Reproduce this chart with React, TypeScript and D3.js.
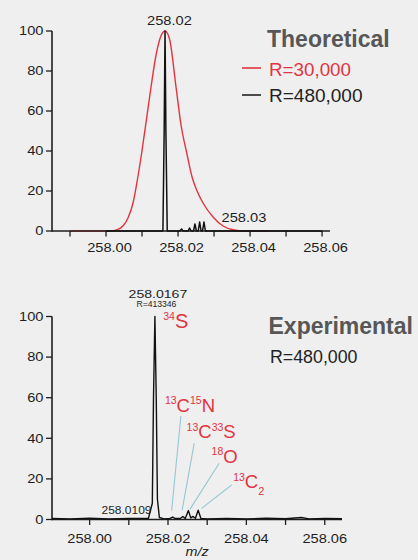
import React from "react";
import * as d3 from "d3";

// ---------- DATA ----------
// Theoretical, R=30,000 (red profile)
const redMz = [257.99, 258.0011, 258.0033, 258.0047, 258.0061, 258.0075, 258.00875, 258.0099, 258.01125, 258.0125, 258.0139, 258.01514, 258.01639, 258.01764, 258.01944, 258.02083, 258.02242, 258.02389, 258.02528, 258.02694, 258.02972, 258.0325, 258.03528, 258.03861, 258.045];
const redInt = [0, 0, 0.8, 2.5, 6.5, 14, 26, 39, 56, 72, 88, 97, 100, 96, 72, 53, 39, 27, 20, 14, 7, 2.5, 0.6, 0, 0];

// Theoretical, R=480,000 (black)
const blackMz = [258.0, 258.0158, 258.01615, 258.01639, 258.01663, 258.017, 258.0205, 258.02097, 258.0214, 258.0228, 258.0232, 258.0236, 258.0243, 258.0247, 258.0251, 258.0256, 258.026, 258.0264, 258.0268, 258.0272, 258.0276, 258.03, 258.06];
const blackInt = [0, 0, 50, 100, 50, 0, 0, 1, 0, 0, 1.5, 0, 0, 3.5, 0, 0, 4.5, 0, 0, 4.5, 0, 0, 0];

// Experimental, R=480,000
const expMz = [257.9904, 257.995, 258.0, 258.005, 258.01, 258.015, 258.016, 258.0163, 258.01666, 258.017, 258.0173, 258.0178, 258.019, 258.0205, 258.0212, 258.0218, 258.0232, 258.0238, 258.0244, 258.0252, 258.0258, 258.0264, 258.027, 258.0277, 258.0284, 258.03, 258.035, 258.04, 258.045, 258.05, 258.054, 258.056, 258.06, 258.0644];
const expInt = [0.5, 0.3, 0.6, 0.3, 0.5, 0.6, 8, 60, 100, 60, 10, 1, 0.3, 0.5, 1.2, 0.5, 0.6, 1.5, 0.5, 4.4, 0.8, 1.5, 0.6, 4.6, 0.5, 0.3, 0.5, 0.3, 0.6, 0.4, 1, 0.3, 0.5, 0.4];

const yTicks = [0, 20, 40, 60, 80, 100];
const topXTicks = [257.99, 258.0, 258.01, 258.02, 258.03, 258.04, 258.05, 258.06];
const botXTicks = [258.0, 258.01, 258.02, 258.03, 258.04, 258.05, 258.06];
const xLabelTicks = ["258.00", "258.02", "258.04", "258.06"];

// Isotope annotations (experimental): label anchor and leader line in data units
const isoSup = ["13", "13", "18", "13"];
const isoMain = ["C", "C", "O", "C"];
const isoSup2 = ["15", "33", "", ""];
const isoMain2 = ["N", "S", "", ""];
const isoSub = ["", "", "", "2"];
const isoLabelMz = [258.01921, 258.02474, 258.03112, 258.03663];
const isoLabelInt = [53.1, 40.0, 28.0, 15.4];
const leaderTopMz = [258.02329, 258.02668, 258.03306, 258.03622];
const leaderTopInt = [51.0, 37.5, 27.7, 17.0];
const leaderBotMz = [258.02092, 258.02362, 258.02559, 258.02857];
const leaderBotInt = [4.3, 4.7, 5.0, 5.5];

const FONT = "'Liberation Sans', Arial, Helvetica, sans-serif";
const RED = "#e3343f";
const AXIS = "#1e1e1e";

export default function App() {
  const W = 418, H = 560;
  const xTop = d3.scaleLinear().domain([257.985, 258.0622]).range([52, 330]);
  const yTop = d3.scaleLinear().domain([0, 100]).range([231, 31]);
  const xBot = d3.scaleLinear().domain([257.9904, 258.0644]).range([52, 342]);
  const yBot = d3.scaleLinear().domain([0, 100]).range([519.5, 316.5]);

  const lineTop = d3.line<[number, number]>().x(d => xTop(d[0])).y(d => yTop(d[1])).curve(d3.curveMonotoneX);
  const lineTopLin = d3.line<[number, number]>().x(d => xTop(d[0])).y(d => yTop(d[1]));
  const lineBot = d3.line<[number, number]>().x(d => xBot(d[0])).y(d => yBot(d[1]));

  const redPath = lineTop(redMz.map((m, i) => [m, redInt[i]] as [number, number]))!;
  const blackPath = lineTopLin(blackMz.map((m, i) => [m, blackInt[i]] as [number, number]))!;
  const expPath = lineBot(expMz.map((m, i) => [m, expInt[i]] as [number, number]))!;

  const small = (x: number, y: number, s: string, anchor: string, size = 12, sx = 1.22, extra: any = {}) => (
    <text transform={`translate(${x},${y}) scale(${sx},1)`} textAnchor={anchor} fontSize={size} fontFamily={FONT} fill={AXIS} {...extra}>{s}</text>
  );

  const axes = (xs: any, ys: any, xTicks: number[], xEnd: number, labelDx: number, labelY: number) => (
    <g>
      <line x1={xs.range()[0]} x2={xEnd} y1={ys(0)} y2={ys(0)} stroke={AXIS} strokeWidth={1.6} />
      <line x1={xs.range()[0]} x2={xs.range()[0]} y1={ys(0) + 0.8} y2={ys(100)} stroke={AXIS} strokeWidth={1.6} />
      {yTicks.map(t => (
        <g key={"y" + t}>
          <line x1={xs.range()[0] - 6} x2={xs.range()[0]} y1={ys(t)} y2={ys(t)} stroke={AXIS} strokeWidth={1.3} />
          {small(43.5, ys(t) + 4.3, String(t), "end")}
        </g>
      ))}
      {xTicks.map(t => (
        <line key={"x" + t} x1={xs(t)} x2={xs(t)} y1={ys(0)} y2={ys(0) + 5.5} stroke={AXIS} strokeWidth={1.3} />
      ))}
      {xLabelTicks.map(s => (
        <g key={"l" + s}>{small(xs(+s) + labelDx, labelY, s, "middle")}</g>
      ))}
    </g>
  );

  return (
    <svg width={W} height={H} style={{ position: "absolute", left: 0, top: 0, background: "#efefef" }}>
      <rect x={0} y={0} width={W} height={H} fill="#efefef" />

      {/* ---------- TOP: Theoretical ---------- */}
      <path d={redPath} fill="none" stroke={RED} strokeWidth={1.4} />
      {axes(xTop, yTop, topXTicks, 330, 3.5, 252)}
      <path d={blackPath} fill="none" stroke="#111" strokeWidth={1.5} strokeLinejoin="round" />
      {small(xTop(258.0165) + 4, yTop(100) - 6, "258.02", "middle")}
      {small(xTop(258.0383), yTop(4.5), "258.03", "middle")}

      <text x={267} y={46.5} fontSize={23} fontWeight="bold" fontFamily={FONT} fill="#575757">Theoretical</text>
      <line x1={242} x2={261} y1={68} y2={68} stroke={RED} strokeWidth={1.6} />
      <text x={269} y={75.5} fontSize={18.8} fontFamily={FONT} fill={RED}>R=30,000</text>
      <line x1={242} x2={261} y1={95} y2={95} stroke="#222" strokeWidth={1.6} />
      <text x={269} y={101.8} fontSize={19} fontFamily={FONT} fill="#222">R=480,000</text>

      {/* ---------- BOTTOM: Experimental ---------- */}
      {axes(xBot, yBot, botXTicks, 342, 0, 543)}
      {isoLabelMz.map((_, i) => (
        <line key={"ld" + i} x1={xBot(leaderTopMz[i])} y1={yBot(leaderTopInt[i])} x2={xBot(leaderBotMz[i])} y2={yBot(leaderBotInt[i])} stroke="#97c6d3" strokeWidth={1.1} />
      ))}
      <path d={expPath} fill="none" stroke="#111" strokeWidth={1.4} strokeLinejoin="round" />

      {small(xBot(258.01666) + 3, 297.5, "258.0167", "middle", 11, 1.28)}
      <text x={xBot(258.01666) + 1.5} y={307.3} textAnchor="middle" fontSize={8.6} fontFamily={FONT} fill={AXIS}>R=413346</text>
      {small(151.5, 513.5, "258.0109", "end", 10, 1.2)}

      <text x={xBot(258.01878)} y={yBot(94.2)} fontFamily={FONT} fill={RED}>
        <tspan fontSize={10.5} dy={-8}>34</tspan>
        <tspan fontSize={20} dy={8}>S</tspan>
      </text>
      {isoLabelMz.map((m, i) => (
        <text key={"iso" + i} x={xBot(m)} y={yBot(isoLabelInt[i])} fontFamily={FONT} fill={RED}>
          <tspan fontSize={10.5} dy={-7.5}>{isoSup[i]}</tspan>
          <tspan fontSize={18.5} dy={7.5}>{isoMain[i]}</tspan>
          {isoSup2[i] ? <tspan fontSize={10.5} dy={-7.5}>{isoSup2[i]}</tspan> : null}
          {isoMain2[i] ? <tspan fontSize={18.5} dy={7.5}>{isoMain2[i]}</tspan> : null}
          {isoSub[i] ? <tspan fontSize={11} dy={7}>{isoSub[i]}</tspan> : null}
        </text>
      ))}

      <text x={268.5} y={334.3} fontSize={23} fontWeight="bold" fontFamily={FONT} fill="#575757">Experimental</text>
      <text x={270} y={362.7} fontSize={17.8} fontFamily={FONT} fill="#222">R=480,000</text>

      <text transform={`translate(197,556) scale(1.2,1)`} textAnchor="middle" fontSize={12} fontStyle="italic" fontFamily={FONT} fill={AXIS}>m/z</text>
    </svg>
  );
}
